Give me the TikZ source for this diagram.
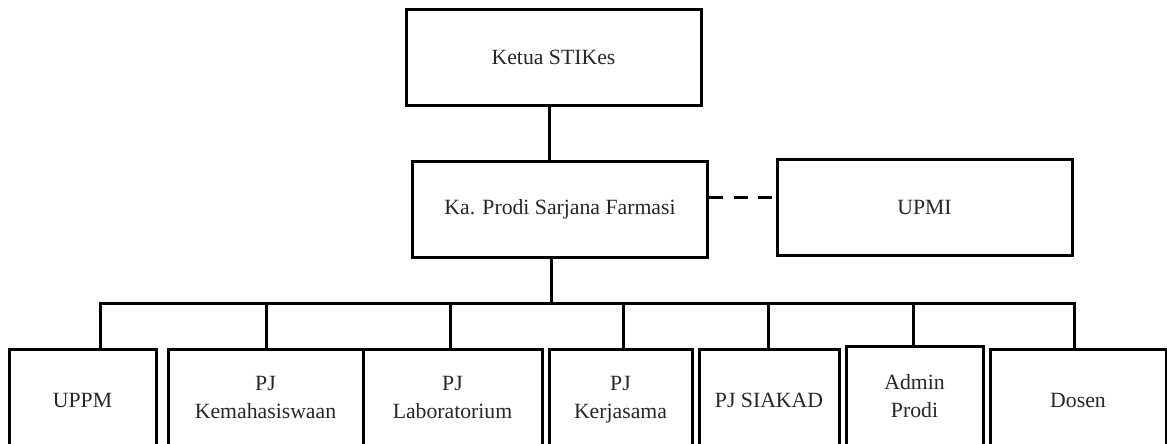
\documentclass[tikz,border=0pt]{standalone}
\usepackage{fontspec}
\setmainfont{Liberation Serif}
\begin{document}
\begin{tikzpicture}[x=0.75pt,y=-0.75pt,
  box/.style={draw=black,line width=2.25pt,rectangle,inner sep=0pt,align=center,
    font=\fontsize{16.3}{21}\selectfont,text=black!85},
  topbox/.style={box,minimum width=221.25pt,minimum height=72pt},
  botbox/.style={box,minimum height=76.5pt},
  conn/.style={line width=2.25pt,line cap=rect},
  dashconn/.style={line width=2.25pt,dash pattern=on 10.5pt off 8pt}]
\useasboundingbox (0,0) rectangle (1167,443);
\clip (0,0) rectangle (1167,443);
\node[topbox] (ketua) at (553.5,57.5) {Ketua STIKes};
\node[topbox] (kaprodi) at (560,209) {Ka. Prodi Sarjana Farmasi};
\node[topbox] (upmi) at (924.5,207) {UPMI};
\node[botbox,minimum width=110.25pt] (uppm) at (82.5,400) {UPPM};
\node[botbox,minimum width=146.25pt] (kema) at (265.5,400) {PJ\\Kemahasiswaan\\[-16.5pt]};
\node[botbox,minimum width=134.25pt] (lab) at (452.5,400) {PJ\\Laboratorium\\[-16.5pt]};
\node[botbox,minimum width=107.25pt] (kerja) at (620.5,400) {PJ\\Kerjasama\\[-16.5pt]};
\node[botbox,minimum width=105pt] (siakad) at (769,400) {PJ SIAKAD};
\node[botbox,minimum width=102.75pt,minimum height=78.75pt] (admin) at (914.5,398.5) {Admin\\Prodi\\[-16.5pt]};
\node[botbox,minimum width=132pt] (dosen) at (1078,400) {Dosen};
\coordinate (t) at (549,0);
\coordinate (bus) at (551,303);
\coordinate (d1) at (100,0);
\coordinate (d2) at (266,0);
\coordinate (d3) at (450,0);
\coordinate (d4) at (623,0);
\coordinate (d5) at (768,0);
\coordinate (d6) at (913,0);
\coordinate (d7) at (1074,0);
\coordinate (dash) at (0,197);
\draw[conn] (t |- ketua.south) -- (t |- kaprodi.north);
\draw[conn] (bus |- kaprodi.south) -- (bus);
\draw[conn] (d1 |- bus) -- (d7 |- bus);
\draw[conn] (d1 |- bus) -- (d1 |- uppm.north);
\draw[conn] (d2 |- bus) -- (d2 |- kema.north);
\draw[conn] (d3 |- bus) -- (d3 |- lab.north);
\draw[conn] (d4 |- bus) -- (d4 |- kerja.north);
\draw[conn] (d5 |- bus) -- (d5 |- siakad.north);
\draw[conn] (d6 |- bus) -- (d6 |- admin.north);
\draw[conn] (d7 |- bus) -- (d7 |- dosen.north);
\draw[dashconn] (kaprodi.east |- dash) -- (upmi.west |- dash);
\end{tikzpicture}
\end{document}
